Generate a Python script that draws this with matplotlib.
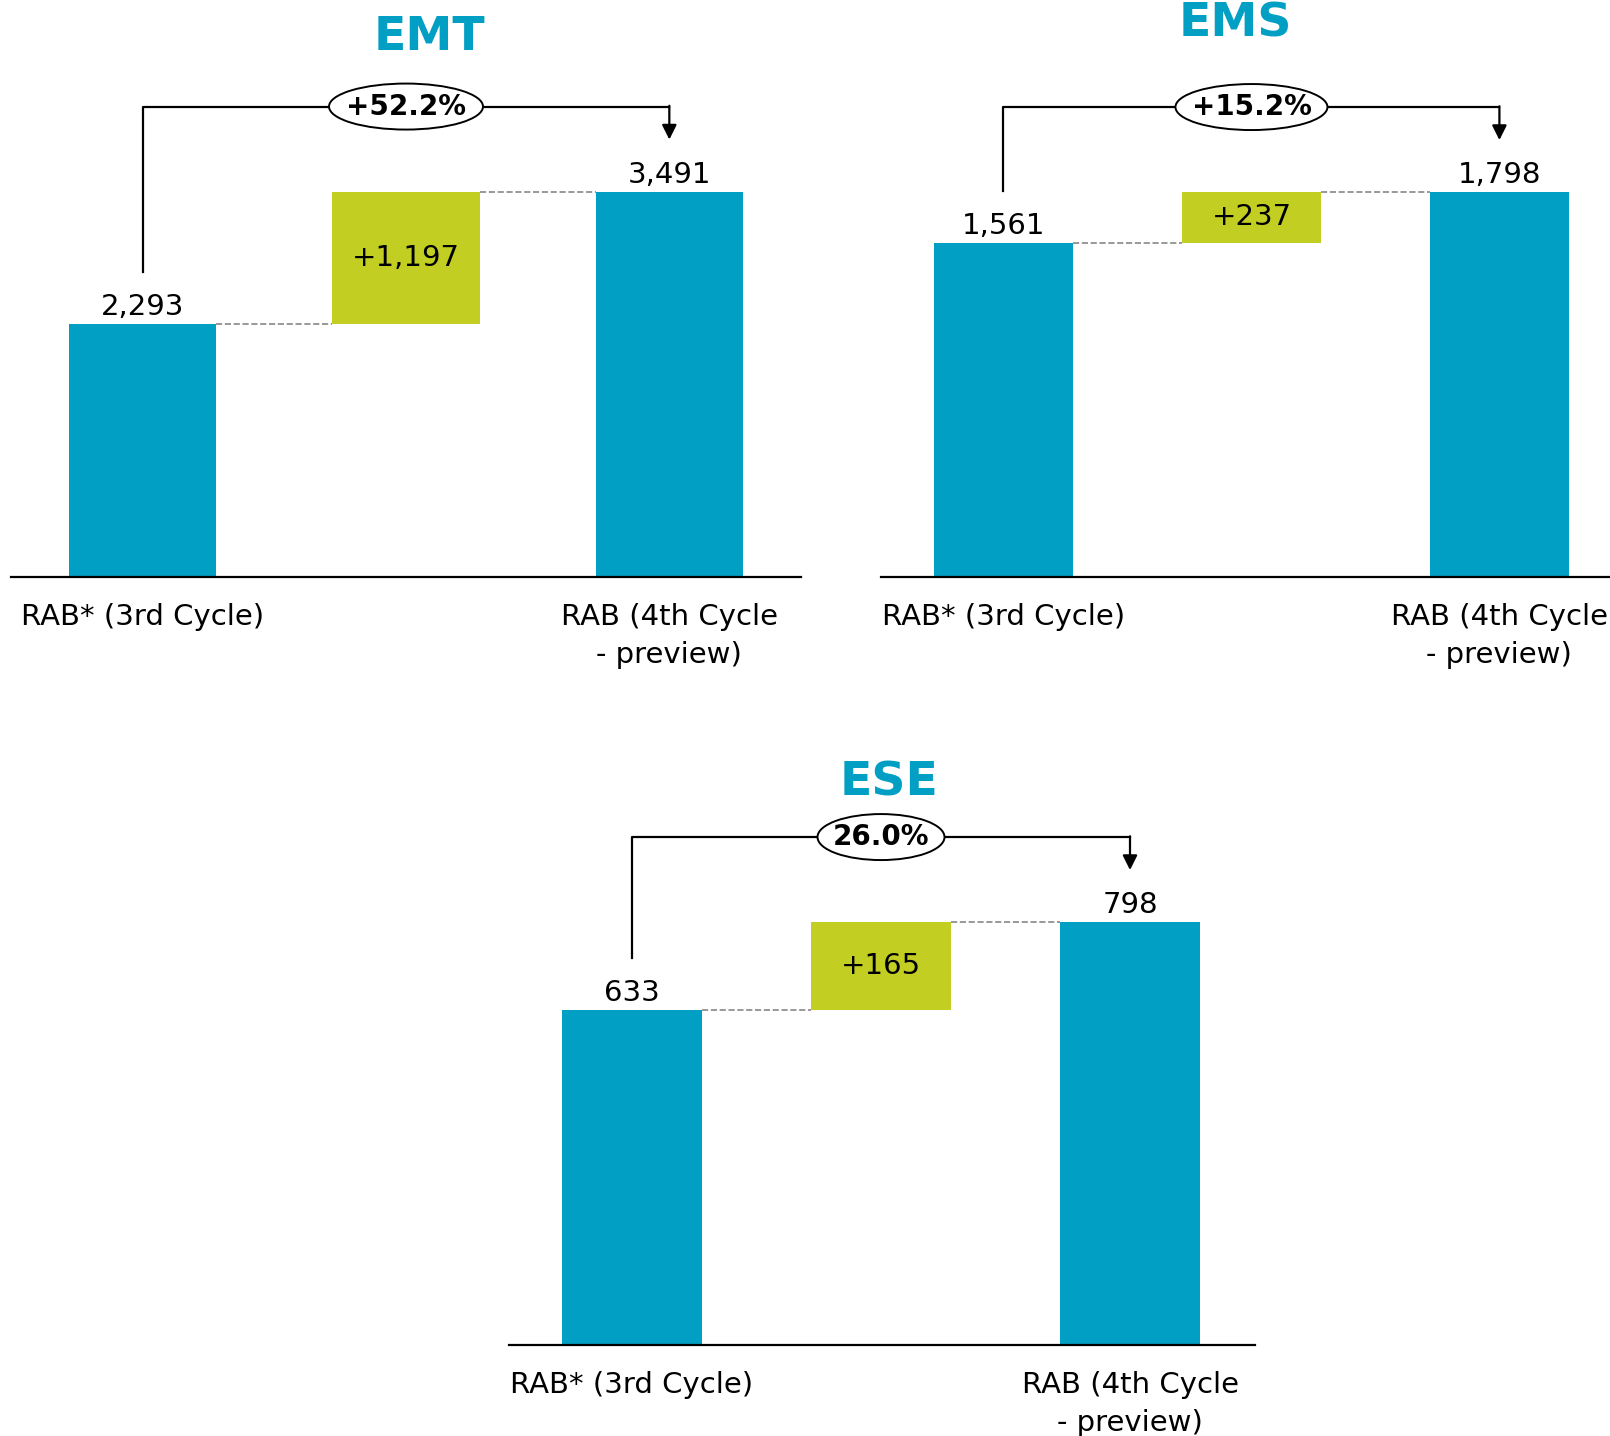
import matplotlib.pyplot as plt
from matplotlib.patches import Ellipse

# RAB por empresa: ciclo 3 -> incremento -> ciclo 4 (preview)
empresas = ["EMT", "EMS", "ESE"]
rab_3 = [2293, 1561, 633]
incremento = [1197, 237, 165]
rab_4 = [3491, 1798, 798]
crecimiento = ["+52.2%", "+15.2%", "26.0%"]
categorias = ["RAB* (3rd Cycle)", "RAB (4th Cycle\n- preview)"]

azul = "#009FC3"
verde = "#C2CE21"
plt.rcParams["font.family"] = ["DejaVu Sans"]

W, H = 1610, 1436
fig = plt.figure(figsize=(W / 100, H / 100), dpi=100)

# posicion de cada panel en pixeles: izquierda, derecha, base, arriba, xlim, ylim
paneles = [
    (11, 801, 577, 0, (-0.5, 2.5), 5226),
    (881, 1610, 577, 0, (-0.494, 2.446), 2695),
    (509, 1255, 1345, 700, (-0.494, 2.502), 1217),
]
titulos_pos = [(429, 38), (1235, 24), (889, 783)]
ancho_ellipse = [154, 152, 127]

for i in range(3):
    x0, x1, base, top, xl, ytop = paneles[i]
    ax = fig.add_axes([x0 / W, 1 - base / H, (x1 - x0) / W, (base - top) / H])
    ax.set_xlim(*xl)
    ax.set_ylim(0, ytop)
    sx = (x1 - x0) / (xl[1] - xl[0])
    sy = (base - top) / ytop

    a, d, b = rab_3[i], incremento[i], rab_4[i]
    w = 0.56
    ax.bar(0, a, width=w, color=azul, zorder=2)
    ax.bar(1, d, bottom=a, width=w, color=verde, zorder=2)
    ax.bar(2, b, width=w, color=azul, zorder=2)

    # lineas punteadas de conexion
    ax.plot([w / 2, 1 - w / 2], [a, a], ls="--", color="#888888", lw=1.2, zorder=1)
    ax.plot([1 + w / 2, 2 - w / 2], [a + d, a + d], ls="--", color="#888888", lw=1.2, zorder=1)

    # etiquetas de valores
    ax.text(0, a + 3 / sy, f"{a:,}", ha="center", va="bottom", fontsize=21)
    ax.text(2, b + 3 / sy, f"{b:,}", ha="center", va="bottom", fontsize=21)
    ax.text(1, a + d / 2, f"+{d:,}", ha="center", va="center", fontsize=21)

    # corchete con flecha
    yb = max(a, b) + 85 / sy
    ax.plot([0, 0, 2], [a + 52 / sy, yb, yb], color="black", lw=1.6, clip_on=False)
    ax.annotate("", xy=(2, b + 52 / sy), xytext=(2, yb + 0.8 / sy),
                arrowprops=dict(arrowstyle="-|>", color="black", lw=1.6,
                                mutation_scale=22, shrinkA=0, shrinkB=0),
                annotation_clip=False)
    ax.add_patch(Ellipse((1, yb), ancho_ellipse[i] / sx, 46 / sy, facecolor="white",
                         edgecolor="black", lw=1.4, clip_on=False, zorder=5))
    ax.text(1, yb, crecimiento[i], ha="center", va="center", fontsize=20,
            fontweight="bold", zorder=6)

    # ejes
    for lado in ["top", "left", "right"]:
        ax.spines[lado].set_visible(False)
    ax.spines["bottom"].set_linewidth(1.6)
    ax.set_yticks([])
    ax.set_xticks([0, 2])
    ax.set_xticklabels(categorias, fontsize=21, linespacing=1.45)
    ax.tick_params(axis="x", length=0, pad=19)

    tx, ty = titulos_pos[i]
    fig.text(tx / W, 1 - ty / H, empresas[i], ha="center", va="center",
             fontsize=34, fontweight="bold", color=azul)

fig.savefig("out.png", dpi=100)
